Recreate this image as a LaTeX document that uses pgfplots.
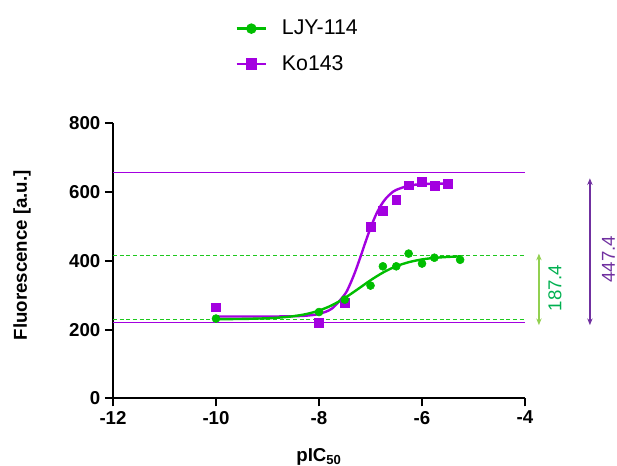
\documentclass[border=0pt]{standalone}
\usepackage{fontspec}
\setmainfont{Liberation Sans}
\usepackage{pgfplots}
\pgfplotsset{compat=1.18}
\usetikzlibrary{arrows.meta,decorations.markings}
\definecolor{ljygreen}{RGB}{0,190,0}
\definecolor{dashgreen}{RGB}{30,200,30}
\definecolor{kopurple}{RGB}{163,0,224}
\definecolor{arrgreen}{RGB}{146,208,80}
\definecolor{txtgreen}{RGB}{0,176,80}
\definecolor{arrpurple}{RGB}{112,48,160}

\tikzset{greendash/.style={draw=none, postaction={decorate},
    decoration={markings, mark=between positions 0 and 1 step 5pt with
    {\draw[draw=dashgreen, line width=1pt] (0pt,0pt) -- (3pt,0pt);}}}}

\begin{document}
\begin{tikzpicture}
\begin{axis}[
    scale only axis, width=309pt, height=206.25pt,
    xmin=-12, xmax=-4, ymin=0, ymax=800,
    axis lines*=left,
    axis line style={line width=1.6pt, black},
    tick style={line width=1.6pt, black},
    tick align=outside, major tick length=6pt,
    xtick={-12,-10,-8,-6,-4}, xticklabels={-12,-10,-8,-6,-4},
    ytick={0,200,400,600,800}, yticklabels={0,200,400,600,800},
    ticklabel style={font=\bfseries\fontsize{14}{16}\selectfont},
    xlabel={\bfseries pIC\textsubscript{50}},
    ylabel={\bfseries Fluorescence [a.u.]},
    label style={font=\fontsize{14}{16}\selectfont},
    xlabel style={at={(axis description cs:0.5,-0.212)}, anchor=center},
    ylabel style={at={(axis description cs:-0.221,0.52)}, anchor=center},
    clip=false,
    legend style={at={(rel axis cs:0.287,1.395)}, anchor=north west,
        draw=none, fill=none, font=\fontsize{16}{18}\selectfont,
        row sep=10pt, column sep=9pt},
    legend cell align=left,
    legend image code/.code={\draw[mark repeat=2,mark phase=2] plot coordinates {(0pt,0pt)(11pt,0pt)(22pt,0pt)};},
]
\addlegendimage{ljygreen, line width=1.8pt, mark=*, mark size=3pt}
\addlegendentry{LJY-114}
\addlegendimage{kopurple, line width=1.8pt, mark=square*, mark size=3.3pt}
\addlegendentry{Ko143}

% plateau lines
\addplot[draw=kopurple, line width=0.8pt, forget plot] coordinates {(-12,657) (-4,657)};
\addplot[draw=kopurple, line width=0.8pt, forget plot] coordinates {(-12,221) (-4,221)};
\addplot[greendash, forget plot] coordinates {(-12,416) (-4,416)};
\addplot[greendash, forget plot] coordinates {(-12,229) (-4,229)};

% Ko143 fit
\addplot[color=kopurple, line width=1.8pt, smooth, forget plot] coordinates {
(-10,238) (-9.5,238) (-9,238.1) (-8.75,238.2) (-8.5,238.8) (-8.25,240.4)
(-8,245.6) (-7.75,261.0) (-7.5,302.2) (-7.4,330.9) (-7.3,367.3) (-7.2,409.4)
(-7.1,453.6) (-7.0,495.7) (-6.9,532.1) (-6.8,560.8) (-6.7,581.7) (-6.6,596.4)
(-6.5,606.4) (-6.25,618.8) (-6,623.1) (-5.75,624.4) (-5.5,624.8)};
\addplot[color=kopurple, only marks, mark=square*, mark size=3.3pt, forget plot] coordinates {
(-10,265) (-8,220) (-7.5,277) (-7,498) (-6.76,546) (-6.5,578)
(-6.26,620) (-6,629) (-5.76,619) (-5.5,623)};

% LJY-114 fit
\addplot[color=ljygreen, line width=1.8pt, smooth, forget plot] coordinates {
(-10,230.3) (-9.5,230.9) (-9,232.9) (-8.75,235.1) (-8.5,238.8) (-8.25,245.1)
(-8,255.3) (-7.75,270.7) (-7.5,291.8) (-7.25,317.2) (-7,343.4) (-6.75,366.5)
(-6.5,384.3) (-6.25,396.3) (-6,404.1) (-5.75,408.7) (-5.5,411.3) (-5.25,413.0)};
\addplot[color=ljygreen, only marks, mark=*, mark size=3pt, forget plot] coordinates {
(-10,232) (-8,251) (-7.5,287) (-7,328) (-6.76,384) (-6.5,384)
(-6.26,421) (-6,392) (-5.76,409) (-5.26,403)};

% difference arrows
\draw[arrgreen, line width=0.9pt, {Stealth[length=5pt,width=4pt]}-{Stealth[length=5pt,width=4pt]}]
    (axis cs:-3.73,213) -- (axis cs:-3.73,421);
\node[rotate=90, txtgreen, font=\fontsize{14}{16}\selectfont] at (axis cs:-3.42,321) {187.4};
\draw[arrpurple, line width=0.9pt, {Stealth[length=5pt,width=4pt]}-{Stealth[length=5pt,width=4pt]}]
    (axis cs:-2.74,213) -- (axis cs:-2.74,640);
\node[rotate=90, arrpurple, font=\fontsize{14}{16}\selectfont] at (axis cs:-2.38,405) {447.4};

\coordinate (bl) at (axis cs:-14.194,-194);
\coordinate (tr) at (axis cs:-2.214,1158.7);
\end{axis}
\pgfresetboundingbox
\path (bl) rectangle (tr);
\end{tikzpicture}
\end{document}
